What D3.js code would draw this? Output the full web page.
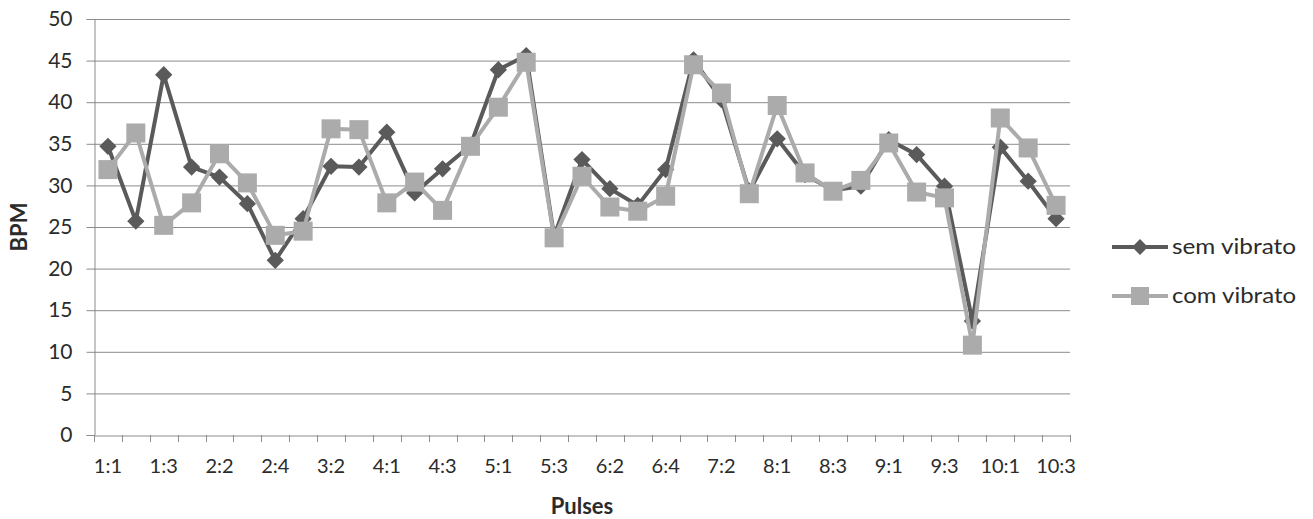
<!DOCTYPE html>
<html><head><meta charset="utf-8">
<script src="https://cdn.jsdelivr.net/npm/d3@7"></script>
<style>
body{margin:0;background:#fff;}
text{font-family:Lato,"Open Sans",sans-serif;fill:#2b2b2b;}
</style></head>
<body><svg id="c" width="1313" height="519"></svg>
<script>
const categories = ["1:1","1:2","1:3","2:1","2:2","2:3","2:4","3:1","3:2","3:3","4:1","4:2","4:3","4:4","5:1","5:2","5:3","6:1","6:2","6:3","6:4","7:1","7:2","7:3","8:1","8:2","8:3","8:4","9:1","9:2","9:3","9:4","10:1","10:2","10:3"];
const tickLabels = ["1:1","1:3","2:2","2:4","3:2","4:1","4:3","5:1","5:3","6:2","6:4","7:2","8:1","8:3","9:1","9:3","10:1","10:3"];
const semVibrato = [34.7,25.7,43.3,32.2,31.0,27.8,21.0,26.0,32.3,32.2,36.4,29.1,32.0,34.8,43.9,45.6,23.9,33.1,29.6,27.6,31.9,45.1,40.3,29.3,35.6,31.3,29.4,29.9,35.5,33.7,29.9,13.7,34.6,30.5,26.0];
const comVibrato = [31.9,36.3,25.2,27.9,33.8,30.3,24.0,24.5,36.8,36.7,27.9,30.4,27.0,34.7,39.4,44.8,23.7,31.1,27.4,26.9,28.7,44.5,41.1,29.0,39.6,31.5,29.3,30.6,35.1,29.2,28.5,10.8,38.1,34.5,27.6];
const yTicks = [0,5,10,15,20,25,30,35,40,45,50];
const seriesNames = ["sem vibrato","com vibrato"];

const svg = d3.select("#c");
const L=94, R=1070, T=19, B=435;
const x = d3.scaleBand().domain(categories).range([L,R]);
const y = d3.scaleLinear().domain([0,50]).range([B,T]);
const gridCol="#8c8c8c";

// gridlines
svg.append("g").selectAll("line").data(yTicks.filter(d=>d>0)).join("line")
  .attr("x1",L).attr("x2",R).attr("y1",d=>y(d)+0.5).attr("y2",d=>y(d)+0.5)
  .attr("stroke",gridCol).attr("stroke-width",1);

// y axis
const ya = svg.append("g").attr("transform",`translate(${L+0.5},0)`)
  .call(d3.axisLeft(y).tickValues(yTicks).tickSize(8).tickPadding(14).tickFormat(d3.format("d")));
ya.select(".domain").attr("stroke",gridCol);
ya.selectAll(".tick line").attr("stroke",gridCol);
ya.selectAll("text").attr("font-size",21).attr("fill","#2b2b2b").style("font-family","Lato,sans-serif");

// x axis
const xa = svg.append("g").attr("transform",`translate(0,${B+0.5})`)
  .call(d3.axisBottom(x).tickValues(tickLabels).tickSize(0).tickPadding(23));
xa.select(".domain").attr("stroke",gridCol);
xa.selectAll("text").attr("font-size",20).attr("fill","#2b2b2b").style("font-family","Lato,sans-serif");
// boundary ticks
const bounds = categories.map(c=>x(c)).concat([R]);
svg.append("g").selectAll("line").data(bounds).join("line")
  .attr("x1",d=>Math.round(d)+0.5).attr("x2",d=>Math.round(d)+0.5).attr("y1",B).attr("y2",B+7)
  .attr("stroke",gridCol);

const cx = c=>x(c)+x.bandwidth()/2;
const dark="#5a5a5a", light="#ababab";
const line = d3.line().x((d,i)=>cx(categories[i])).y(d=>y(d));

// dark series
svg.append("path").datum(semVibrato).attr("d",line).attr("fill","none").attr("stroke",dark).attr("stroke-width",4).attr("stroke-linejoin","round");
svg.append("g").selectAll("path").data(semVibrato).join("path")
  .attr("d",d3.symbol().type(d3.symbolDiamond2).size(190))
  .attr("transform",(d,i)=>`translate(${cx(categories[i])},${y(d)})`)
  .attr("fill",dark);

// light series
svg.append("path").datum(comVibrato).attr("d",line).attr("fill","none").attr("stroke",light).attr("stroke-width",4).attr("stroke-linejoin","round");
svg.append("g").selectAll("rect").data(comVibrato).join("rect")
  .attr("x",(d,i)=>cx(categories[i])-9.5).attr("y",d=>y(d)-9.5).attr("width",19).attr("height",19)
  .attr("fill",light);

// axis titles
svg.append("text").attr("transform",`translate(27,${(T+B)/2}) rotate(-90)`).attr("text-anchor","middle")
  .attr("font-size",22).attr("font-weight","bold").text("BPM");
svg.append("text").attr("x",582).attr("y",514).attr("text-anchor","middle")
  .attr("font-size",22).attr("font-weight","bold").text("Pulses");

// legend
const leg = [{n:seriesNames[0],c:dark,t:"d",y:247},{n:seriesNames[1],c:light,t:"s",y:296}];
leg.forEach(l=>{
  svg.append("line").attr("x1",1112).attr("x2",1168).attr("y1",l.y).attr("y2",l.y).attr("stroke",l.c).attr("stroke-width",4);
  if(l.t==="d") svg.append("path").attr("d",d3.symbol().type(d3.symbolDiamond2).size(160)).attr("transform",`translate(1140,${l.y})`).attr("fill",l.c);
  else svg.append("rect").attr("x",1131).attr("y",l.y-9).attr("width",18).attr("height",18).attr("fill",l.c);
  svg.append("text").attr("x",1172).attr("y",l.y+7).attr("font-size",21).attr("textLength",124).attr("lengthAdjust","spacingAndGlyphs").text(l.n);
});
</script></body></html>
